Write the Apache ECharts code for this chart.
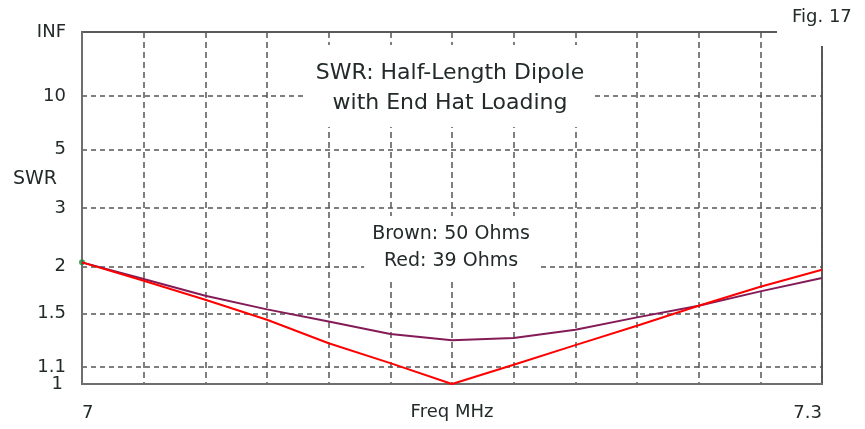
<!DOCTYPE html>
<html><head><meta charset="utf-8">
<script src="https://cdn.jsdelivr.net/npm/echarts@6/dist/echarts.min.js"></script>
<style>html,body{margin:0;padding:0;background:#fff}#c{width:865px;height:429px}</style>
</head><body><div id="c"></div>
<script>
// Frequencies (MHz)
const freqs = [7.000, 7.025, 7.050, 7.075, 7.100, 7.125, 7.150, 7.175, 7.200, 7.225, 7.250, 7.275, 7.300];
// SWR, 50 ohm reference (brown)
const swrBrown = [2.056, 1.850, 1.670, 1.538, 1.432, 1.331, 1.284, 1.301, 1.365, 1.467, 1.572, 1.714, 1.862];
// SWR, 39 ohm reference (red)
const swrRed = [2.056, 1.831, 1.630, 1.447, 1.262, 1.126, 1.000, 1.116, 1.248, 1.397, 1.572, 1.764, 1.962];
// SWR gridlines and tick labels
const gridSwr = [1.1, 1.5, 2, 3, 5, 10];
const labelSwr = [1.1, 1.5, 2, 3, 5, 10, Infinity];
const labelText = ['1.1', '1.5', '2', '3', '5', '10', 'INF'];
const baseSwr = [1];
const baseText = ['1'];
const xLabelValues = [7, 7.3];
const xLabelText = ['7', '7.3'];

const FONT = 'DejaVu Sans';
const TXT = '#222a2a';

// SWR axis is linear in reflection coefficient
function gamma(s) { return isFinite(s) ? (s - 1) / (s + 1) : 1; }
function labelFor(values, texts) {
  return function (v) {
    for (let i = 0; i < values.length; i++) if (Math.abs(v - gamma(values[i])) < 1e-6) return texts[i];
    return '';
  };
}

const chart = echarts.init(document.getElementById('c'), null, {renderer: 'canvas'});
chart.setOption({
  animation: false,
  backgroundColor: '#fff',
  title: [
    {
      text: 'SWR: Half-Length Dipole\nwith End Hat Loading',
      left: 440, top: 45, textAlign: 'center',
      backgroundColor: '#fff', padding: [13, 10, 9, 10],
      textStyle: {fontFamily: FONT, fontSize: 22, fontWeight: 'normal', color: TXT, lineHeight: 30}
    },
    {
      text: 'Brown: 50 Ohms\nRed: 39 Ohms',
      left: 443, top: 216, textAlign: 'center',
      backgroundColor: '#fff', padding: [4, 8, 7, 8],
      textStyle: {fontFamily: FONT, fontSize: 19, fontWeight: 'normal', color: TXT, lineHeight: 27.5}
    },
    {
      text: 'Fig. 17',
      left: 777, top: 0, textAlign: 'left',
      backgroundColor: '#fff', padding: [8, 20, 20, 15],
      textStyle: {fontFamily: FONT, fontSize: 18, fontWeight: 'normal', color: TXT, lineHeight: 18}
    },
    {
      text: 'SWR',
      left: 13, top: 170, padding: 0,
      textStyle: {fontFamily: FONT, fontSize: 19, fontWeight: 'normal', color: TXT, lineHeight: 19}
    }
  ],
  grid: {left: 82, right: 43, top: 32, bottom: 45, show: true, borderColor: '#5a5a5a', borderWidth: 2,
         containLabel: false, outerBoundsMode: 'none'},
  xAxis: {
    type: 'value', min: 7, max: 7.3, interval: 0.025,
    name: 'Freq MHz', nameLocation: 'middle', nameGap: 19, nameMoveOverlap: false,
    nameTextStyle: {fontFamily: FONT, fontSize: 18, color: TXT},
    axisLine: {show: true, lineStyle: {color: '#6e6e6e', width: 2}},
    axisTick: {show: false},
    axisLabel: {
      customValues: xLabelValues,
      margin: 20, fontFamily: FONT, fontSize: 18, color: TXT,
      alignMinLabel: 'left', alignMaxLabel: 'right',
      showMinLabel: true, showMaxLabel: true, hideOverlap: false,
      formatter: function (v) {
        for (let i = 0; i < xLabelValues.length; i++) if (Math.abs(v - xLabelValues[i]) < 1e-6) return xLabelText[i];
        return '';
      }
    },
    splitLine: {show: true, lineStyle: {color: '#555', width: 1.5, type: [6, 4]}}
  },
  yAxis: [
    {
      type: 'value', min: 0, max: 1, position: 'left',
      axisLine: {show: true, lineStyle: {color: '#6e6e6e', width: 2}},
      axisTick: {show: false, customValues: gridSwr.map(gamma)},
      axisLabel: {
        customValues: labelSwr.map(gamma),
        margin: 16, fontFamily: FONT, fontSize: 18, color: TXT,
        showMinLabel: true, showMaxLabel: true, hideOverlap: false,
        formatter: labelFor(labelSwr, labelText)
      },
      splitLine: {show: true, lineStyle: {color: '#555', width: 1.5, type: [5, 4]}}
    },
    {
      type: 'value', min: 0, max: 1, position: 'left', offset: 0,
      axisLine: {show: false},
      axisTick: {show: false},
      splitLine: {show: false},
      axisLabel: {
        customValues: baseSwr.map(gamma),
        margin: 19, fontFamily: FONT, fontSize: 18, color: TXT,
        showMinLabel: true,
        formatter: labelFor(baseSwr, baseText)
      }
    }
  ],
  series: [
    {
      name: 'Brown: 50 Ohms', type: 'line', clip: false, symbol: 'none',
      lineStyle: {color: '#841b57', width: 2},
      data: freqs.map((f, i) => [f, gamma(swrBrown[i])])
    },
    {
      name: 'Red: 39 Ohms', type: 'line', clip: false, symbol: 'none',
      lineStyle: {color: '#ff0000', width: 2},
      data: freqs.map((f, i) => [f, gamma(swrRed[i])])
    },
    {
      type: 'scatter', symbolSize: 6, clip: false,
      itemStyle: {color: '#1f8a3a'},
      data: [[freqs[0], gamma(swrBrown[0])]]
    }
  ]
});
</script>
</body></html>
